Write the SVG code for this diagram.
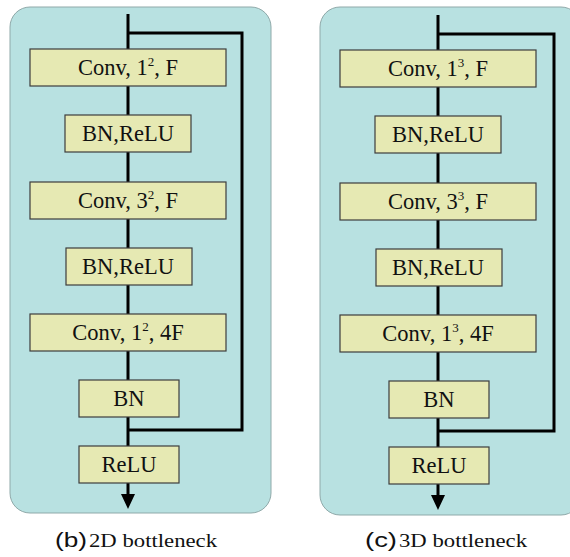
<svg xmlns="http://www.w3.org/2000/svg" width="570" height="557" viewBox="0 0 570 557">
<defs>
<style>
.panel{fill:#b8e1e1;stroke:#8fa9a9;stroke-width:1}
.box{fill:#e6e9b3;stroke:#3d3d3d;stroke-width:1.2}
.lbl{font-family:"Liberation Serif","Times New Roman",serif;font-size:22.5px;fill:#111;text-anchor:middle}
.sup{font-size:13px}
.wire{fill:none;stroke:#000;stroke-width:3}
.cap{font-family:"Liberation Serif","Times New Roman",serif;font-size:19px;fill:#111}
.capl{font-family:"Liberation Sans",Arial,sans-serif;font-size:20px;fill:#111}
</style>
</defs>
<rect class="panel" x="10" y="7" width="261" height="506" rx="20"/>
<rect class="panel" x="320" y="7" width="261" height="508" rx="20"/>
<g id="connectors">
<line class="wire" x1="128" y1="14" x2="128" y2="496"/>
<path class="wire" d="M128,33 H242 V430 H128"/>
<polygon points="121,494 135,494 128,509" fill="#000"/>
<line class="wire" x1="438" y1="15" x2="438" y2="497"/>
<path class="wire" d="M438,34 H554 V431 H438"/>
<polygon points="431,495 445,495 438,510" fill="#000"/>
</g>
<g id="b_conv1"><rect class="box" x="30" y="49" width="196" height="37"/><text class="lbl" x="128" y="75">Conv, 1<tspan class="sup" dy="-9">2</tspan><tspan dy="9">, F</tspan></text></g>
<g id="b_bnrelu1"><rect class="box" x="65" y="115" width="126" height="37"/><text class="lbl" x="128" y="141">BN,ReLU</text></g>
<g id="b_conv2"><rect class="box" x="30" y="182" width="196" height="37"/><text class="lbl" x="128" y="208">Conv, 3<tspan class="sup" dy="-9">2</tspan><tspan dy="9">, F</tspan></text></g>
<g id="b_bnrelu2"><rect class="box" x="66" y="248" width="126" height="37"/><text class="lbl" x="128" y="274">BN,ReLU</text></g>
<g id="b_conv3"><rect class="box" x="30" y="314" width="196" height="37"/><text class="lbl" x="128" y="340">Conv, 1<tspan class="sup" dy="-9">2</tspan><tspan dy="9">, 4F</tspan></text></g>
<g id="b_bn"><rect class="box" x="79" y="380" width="100" height="37"/><text class="lbl" x="129" y="406">BN</text></g>
<g id="b_relu"><rect class="box" x="79" y="446" width="100" height="37"/><text class="lbl" x="129" y="472">ReLU</text></g>
<g id="c_conv1"><rect class="box" x="340" y="50" width="196" height="37"/><text class="lbl" x="438" y="76">Conv, 1<tspan class="sup" dy="-9">3</tspan><tspan dy="9">, F</tspan></text></g>
<g id="c_bnrelu1"><rect class="box" x="375" y="116" width="126" height="37"/><text class="lbl" x="438" y="142">BN,ReLU</text></g>
<g id="c_conv2"><rect class="box" x="340" y="183" width="196" height="37"/><text class="lbl" x="438" y="209">Conv, 3<tspan class="sup" dy="-9">3</tspan><tspan dy="9">, F</tspan></text></g>
<g id="c_bnrelu2"><rect class="box" x="376" y="249" width="126" height="37"/><text class="lbl" x="438" y="275">BN,ReLU</text></g>
<g id="c_conv3"><rect class="box" x="340" y="315" width="196" height="37"/><text class="lbl" x="438" y="341">Conv, 1<tspan class="sup" dy="-9">3</tspan><tspan dy="9">, 4F</tspan></text></g>
<g id="c_bn"><rect class="box" x="389" y="381" width="100" height="37"/><text class="lbl" x="439" y="407">BN</text></g>
<g id="c_relu"><rect class="box" x="389" y="447" width="100" height="37"/><text class="lbl" x="439" y="473">ReLU</text></g>
<g id="captions">
<text class="capl" x="55" y="547" textLength="32" lengthAdjust="spacingAndGlyphs">(b)</text>
<text class="cap" x="89" y="547" textLength="128" lengthAdjust="spacingAndGlyphs">2D bottleneck</text>
<text class="capl" x="365" y="547" textLength="32" lengthAdjust="spacingAndGlyphs">(c)</text>
<text class="cap" x="399" y="547" textLength="128" lengthAdjust="spacingAndGlyphs">3D bottleneck</text>
</g>
</svg>
